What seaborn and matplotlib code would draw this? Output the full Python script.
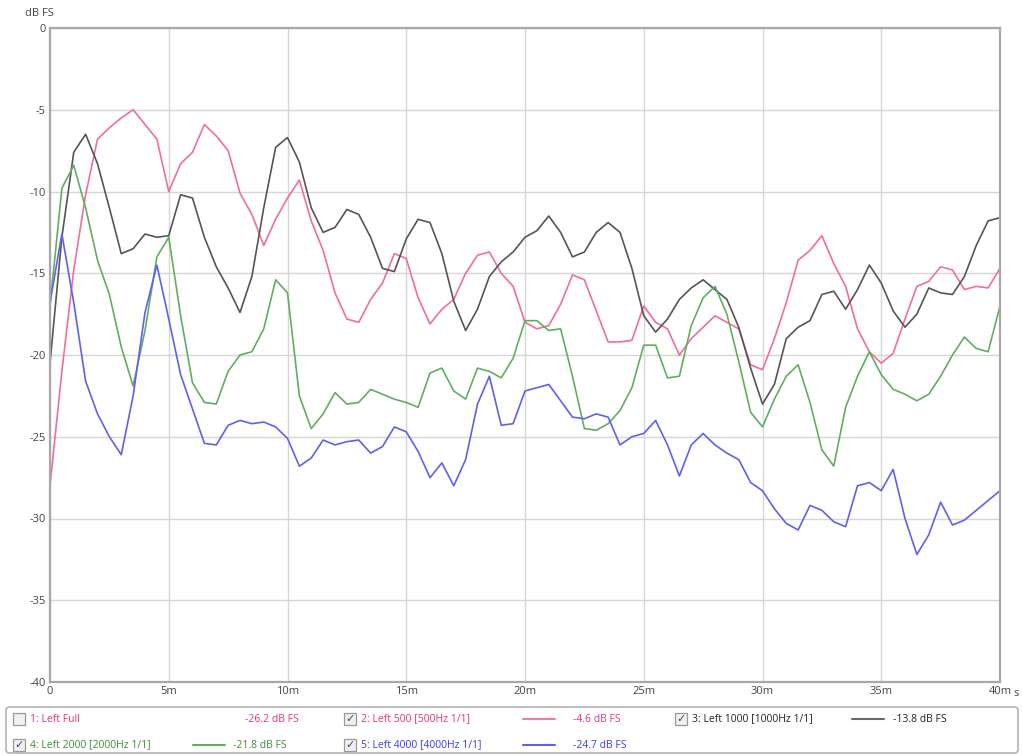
import numpy as np
import pandas as pd
import matplotlib
matplotlib.use("Agg")
import matplotlib.pyplot as plt
from matplotlib.patches import FancyBboxPatch, Rectangle
from matplotlib.lines import Line2D
import seaborn as sns

# ---------------- data (dB FS every 0.5 ms, 0..40 ms) ----------------
time_ms = [i * 0.5 for i in range(81)]

left_500 = [
    -28.0, -21.0, -14.8, -10.2, -6.8, -6.1, -5.5, -5.0, -5.9, -6.8,
    -10.0, -8.3, -7.6, -5.9, -6.6, -7.5, -10.1, -11.4, -13.3, -11.7,
    -10.4, -9.3, -11.8, -13.6, -16.2, -17.8, -18.0, -16.6, -15.6, -13.8,
    -14.1, -16.5, -18.1, -17.2, -16.6, -15.0, -13.9, -13.7, -15.0, -15.8,
    -18.0, -18.4, -18.2, -16.9, -15.1, -15.4, -17.3, -19.2, -19.2, -19.1,
    -17.0, -18.0, -18.4, -20.0, -19.0, -18.3, -17.6, -18.0, -18.4, -20.6,
    -20.9, -19.0, -16.8, -14.2, -13.6, -12.7, -14.4, -15.8, -18.4, -19.8,
    -20.5, -19.9, -17.8, -15.8, -15.5, -14.6, -14.8, -16.0, -15.8, -15.9,
    -14.7]

left_1000 = [
    -20.5, -12.8, -7.6, -6.5, -8.3, -11.0, -13.8, -13.5, -12.6, -12.8,
    -12.7, -10.2, -10.4, -12.8, -14.6, -15.9, -17.4, -15.2, -11.0, -7.3,
    -6.7, -8.2, -11.0, -12.5, -12.2, -11.1, -11.4, -12.8, -14.7, -14.9,
    -12.9, -11.7, -11.9, -13.8, -16.7, -18.5, -17.2, -15.2, -14.3, -13.7,
    -12.8, -12.4, -11.5, -12.5, -14.0, -13.7, -12.5, -11.9, -12.5, -14.7,
    -17.6, -18.6, -17.8, -16.6, -15.9, -15.4, -16.0, -16.6, -18.3, -20.8,
    -23.0, -21.8, -19.0, -18.3, -17.9, -16.3, -16.1, -17.2, -16.0, -14.5,
    -15.6, -17.3, -18.3, -17.5, -15.9, -16.2, -16.3, -15.2, -13.3, -11.8,
    -11.6]

left_2000 = [
    -17.0, -9.8, -8.4, -11.0, -14.2, -16.3, -19.5, -21.9, -18.5, -14.0,
    -12.8, -17.6, -21.7, -22.9, -23.0, -21.0, -20.0, -19.8, -18.4, -15.4,
    -16.2, -22.5, -24.5, -23.6, -22.3, -23.0, -22.9, -22.1, -22.4, -22.7,
    -22.9, -23.2, -21.1, -20.8, -22.2, -22.7, -20.8, -21.0, -21.4, -20.2,
    -17.9, -17.9, -18.5, -18.4, -21.3, -24.5, -24.6, -24.2, -23.4, -22.0,
    -19.4, -19.4, -21.4, -21.3, -18.2, -16.5, -15.8, -17.5, -20.4, -23.5,
    -24.4, -22.7, -21.3, -20.6, -22.9, -25.8, -26.8, -23.2, -21.3, -19.8,
    -21.2, -22.1, -22.4, -22.8, -22.4, -21.3, -20.0, -18.9, -19.6, -19.8,
    -17.0]

left_4000 = [
    -16.8, -12.6, -16.8, -21.6, -23.6, -25.0, -26.1, -22.5, -17.4, -14.5,
    -17.8, -21.2, -23.3, -25.4, -25.5, -24.3, -24.0, -24.2, -24.1, -24.4,
    -25.1, -26.8, -26.3, -25.2, -25.5, -25.3, -25.2, -26.0, -25.6, -24.4,
    -24.7, -25.9, -27.5, -26.6, -28.0, -26.4, -23.0, -21.3, -24.3, -24.2,
    -22.2, -22.0, -21.8, -22.8, -23.8, -23.9, -23.6, -23.8, -25.5, -25.0,
    -24.8, -24.0, -25.5, -27.4, -25.5, -24.8, -25.5, -26.0, -26.4, -27.8,
    -28.3, -29.4, -30.3, -30.7, -29.2, -29.5, -30.2, -30.5, -28.0, -27.8,
    -28.3, -27.0, -30.0, -32.2, -31.0, -29.0, -30.4, -30.1, -29.5, -28.9,
    -28.3]

series_names = ["2: Left 500 [500Hz 1/1]", "3: Left 1000 [1000Hz 1/1]",
                "4: Left 2000 [2000Hz 1/1]", "5: Left 4000 [4000Hz 1/1]"]
series_values = [left_500, left_1000, left_2000, left_4000]
line_colors = ["#ef6f98", "#555555", "#62ad62", "#6060ee"]

x_ticks = [0, 5, 10, 15, 20, 25, 30, 35, 40]
x_tick_labels = ["0", "5m", "10m", "15m", "20m", "25m", "30m", "35m", "40m"]
y_ticks = [0, -5, -10, -15, -20, -25, -30, -35, -40]
y_tick_labels = ["0", "-5", "-10", "-15", "-20", "-25", "-30", "-35", "-40"]

legend_labels = ["1: Left Full", "2: Left 500 [500Hz 1/1]", "3: Left 1000 [1000Hz 1/1]",
                 "4: Left 2000 [2000Hz 1/1]", "5: Left 4000 [4000Hz 1/1]"]
legend_peaks = ["-26.2 dB FS", "-4.6 dB FS", "-13.8 dB FS", "-21.8 dB FS", "-24.7 dB FS"]
legend_checked = [False, True, True, True, True]
legend_text_colors = ["#e8337a", "#e8337a", "#222222", "#3a8f3a", "#3d3de0"]
legend_line_colors = [None, "#f07ba2", "#6a6a6a", "#62ad62", "#6060ee"]

# ---------------- build long-form table ----------------
frames = []
for name, vals in zip(series_names, series_values):
    frames.append(pd.DataFrame({"time": time_ms, "db": vals, "series": name}))
df = pd.concat(frames, ignore_index=True)

sns.set_style("white")
plt.rcParams["font.family"] = ["Open Sans", "DejaVu Sans"]

W, H = 1022, 756
fig = plt.figure(figsize=(W / 100, H / 100), dpi=100)
ax = fig.add_axes([50 / W, 1 - 682 / H, 950 / W, 654 / H])

sns.lineplot(data=df, x="time", y="db", hue="series", palette=line_colors,
             hue_order=series_names, linewidth=1.2, ax=ax, legend=False,
             estimator=None, sort=False)
for ln in ax.get_lines():
    ln.set_solid_joinstyle("round")

ax.set_xlim(0, 40)
ax.set_ylim(-40, 0)
ax.set_xticks(x_ticks)
ax.set_xticklabels(x_tick_labels)
ax.set_yticks(y_ticks)
ax.set_yticklabels(y_tick_labels)
ax.set_xlabel("")
ax.set_ylabel("")
ax.grid(True, color="#d6d6d6", linewidth=1.0)
ax.set_axisbelow(True)
ax.tick_params(axis="both", length=0, labelsize=8, colors="#444444", pad=3)
for side, sp in ax.spines.items():
    sp.set_color("#a8a8a8")
    sp.set_linewidth(1.6)

fig.text(25 / W, 1 - 13 / H, "dB FS", fontsize=8, color="#444444", ha="left", va="center")
fig.text(1013 / W, 1 - 694 / H, "s", fontsize=8, color="#444444", ha="left", va="center")

# ---------------- legend panel ----------------
def fx(px):
    return px / W

def fy(py):
    return 1 - py / H

box = FancyBboxPatch((fx(6), fy(753)), fx(1012) - fx(0), fy(707) - fy(753),
                     boxstyle="round,pad=0,rounding_size=0.004",
                     transform=fig.transFigure, facecolor="white",
                     edgecolor="#b4b4b4", linewidth=1.2)
fig.patches.append(box)

col_x = [13, 344, 675]
rows_y = [719, 745]
positions = [(0, 0), (1, 0), (2, 0), (0, 1), (1, 1)]
peak_dx = [232, 229, 218, 220, 229]
line_x0 = [None, 523, 852, 193, 523]

for i, (c, r) in enumerate(positions):
    x0 = col_x[c]
    yc = rows_y[r]
    cb = Rectangle((fx(x0), fy(yc + 6)), fx(12), fy(0) - fy(12),
                   transform=fig.transFigure, facecolor="#f0f0f0",
                   edgecolor="#9a9a9a", linewidth=0.9)
    fig.patches.append(cb)
    if legend_checked[i]:
        fig.text(fx(x0 + 6), fy(yc), "\u2713", fontsize=8, color="#3a4a7a",
                 ha="center", va="center", family=["DejaVu Sans"])
    fig.text(fx(x0 + 17), fy(yc), legend_labels[i], fontsize=7.5,
             color=legend_text_colors[i], ha="left", va="center")
    if line_x0[i] is not None:
        fig.lines.append(Line2D([fx(line_x0[i]), fx(line_x0[i] + 32)], [fy(yc), fy(yc)],
                                transform=fig.transFigure, color=legend_line_colors[i],
                                linewidth=1.5))
    fig.text(fx(x0 + peak_dx[i]), fy(yc), legend_peaks[i], fontsize=7.5,
             color=legend_text_colors[i], ha="left", va="center")

fig.savefig("out.png", dpi=100)
